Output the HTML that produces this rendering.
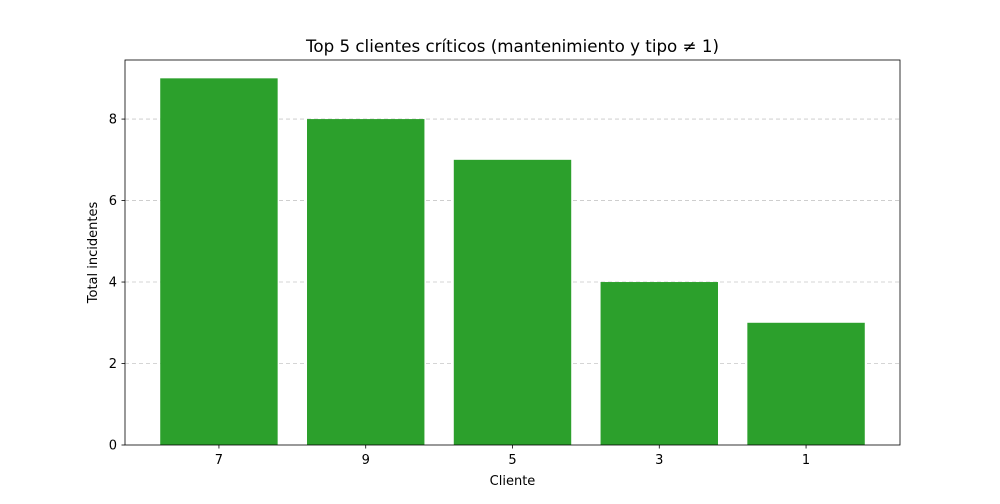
<!DOCTYPE html>
<html><head><meta charset="utf-8"><style>
body{margin:0;background:#fff;font-family:"DejaVu Sans","Liberation Sans",sans-serif}
text{font-family:"DejaVu Sans","Liberation Sans",sans-serif}
</style></head><body>
<svg id="chart" width="1000" height="500" xmlns="http://www.w3.org/2000/svg"></svg>
<script>
const categories=["7","9","5","3","1"];
const values=[9,8,7,4,3];
const yTicks=[0,2,4,6,8];
const L=125,R=900,T=60,B=445;
const yMax=9.45, xMin=-0.64, xMax=4.64;
const y=v=>B-(v/yMax)*(B-T);
const x=i=>L+(i-xMin)/(xMax-xMin)*(R-L);
const svg=document.getElementById('chart');
const NS="http://www.w3.org/2000/svg";
function mk(tag,attrs,parent){const e=document.createElementNS(NS,tag);for(const k in attrs)e.setAttribute(k,attrs[k]);(parent||svg).appendChild(e);return e;}
yTicks.forEach(t=>{
  if(t>0){const g=mk('line',{x1:L,x2:R,y1:y(t),y2:y(t),stroke:'#b0b0b0','stroke-width':0.8,'stroke-dasharray':'4,3',opacity:0.7});
  
  }
});
values.forEach((v,i)=>{
  const w=(x(0.4)-x(-0.4));
  const r=mk('rect',{x:x(i)-w/2,y:y(v),width:w,height:B-y(v),fill:'#2ca02c'});
  
  
  const tk=mk('line',{x1:x(i),x2:x(i),y1:B,y2:B+3.5,stroke:'#000','stroke-width':0.8});
  
  
  const tl=mk('text',{x:x(i),y:B+19,'text-anchor':'middle','font-size':13});
  tl.textContent=categories[i];
  
  
});
yTicks.forEach(t=>{
  const tk=mk('line',{x1:L-3.5,x2:L,y1:y(t),y2:y(t),stroke:'#000','stroke-width':0.8});
  
  
  const tl=mk('text',{x:L-8,y:y(t)+4.5,'text-anchor':'end','font-size':13});
  tl.textContent=t;
  
  
});
const fr=mk('rect',{x:L,y:T,width:R-L,height:B-T,fill:'none',stroke:'#000','stroke-width':0.8});


const ti=mk('text',{x:(L+R)/2,y:52,'text-anchor':'middle','font-size':16.7});
ti.textContent='Top 5 clientes críticos (mantenimiento y tipo ≠ 1)';


const xl=mk('text',{x:(L+R)/2,y:485,'text-anchor':'middle','font-size':13});
xl.textContent='Cliente';


const yl=mk('text',{x:97,y:(T+B)/2,'text-anchor':'middle','font-size':13,transform:'rotate(-90 97 '+((T+B)/2)+')'});
yl.textContent='Total incidentes';


</script>
</body></html>
